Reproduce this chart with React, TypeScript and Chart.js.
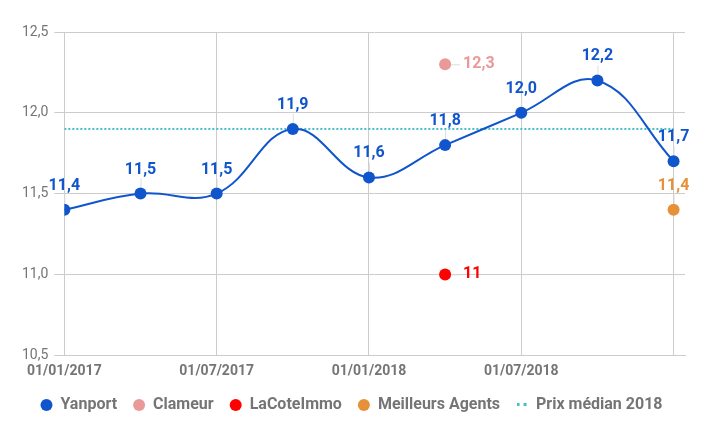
import React, { useEffect, useRef } from "react";
import { Chart, registerables } from "chart.js";

Chart.register(...registerables);

const dates = [
  "01/01/2017", "01/04/2017", "01/07/2017", "01/10/2017",
  "01/01/2018", "01/04/2018", "01/07/2018", "01/10/2018", "01/01/2019",
];
const yanport = [11.4, 11.5, 11.5, 11.9, 11.6, 11.8, 12.0, 12.2, 11.7];
const clameurIndex = 5;
const clameurValue = 12.3;
const laCoteIndex = 5;
const laCoteValue = 11.0;
const meilleursIndex = 8;
const meilleursValue = 11.4;
const prixMedian = 11.9;
const xTickIndices = [0, 2, 4, 6, 8];
const xTickLabels = ["01/01/2017", "01/07/2017", "01/01/2018", "01/07/2018", ""];
const yTicks = [10.5, 11.0, 11.5, 12.0, 12.5];

const FONT = "Roboto, 'Noto Sans', sans-serif";

function fmt(v: number, d: number) {
  return v.toFixed(d).replace(".", ",");
}

const labelPlugin = {
  id: "pointLabels",
  afterDatasetsDraw(chart: any) {
    const ctx = chart.ctx;
    chart.data.datasets.forEach((ds: any, i: number) => {
      if (!ds.labelPos) return;
      const meta = chart.getDatasetMeta(i);
      meta.data.forEach((pt: any, j: number) => {
        const raw = ds.data[j];
        const txt = fmt(raw.y, ds.labelDecimals);
        ctx.save();
        ctx.font = `bold 16px ${FONT}`;
        ctx.fillStyle = ds.labelColor;
        ctx.strokeStyle = "#dddddd";
        ctx.lineWidth = 1;
        if (ds.labelPos === "top") {
          ctx.beginPath();
          ctx.moveTo(pt.x + 0.5, pt.y - 6);
          ctx.lineTo(pt.x + 0.5, pt.y - 15);
          ctx.stroke();
          ctx.textAlign = "center";
          ctx.textBaseline = "middle";
          ctx.fillText(txt, pt.x, pt.y - 24);
        } else {
          ctx.beginPath();
          ctx.moveTo(pt.x + 6, pt.y + 0.5);
          ctx.lineTo(pt.x + 15, pt.y + 0.5);
          ctx.stroke();
          ctx.textAlign = "left";
          ctx.textBaseline = "middle";
          ctx.fillText(txt, pt.x + 18, pt.y);
        }
        ctx.restore();
      });
    });
  },
};

function dottedIcon(color: string) {
  const c = document.createElement("canvas");
  c.width = 11;
  c.height = 4;
  const g = c.getContext("2d")!;
  g.fillStyle = color;
  g.fillRect(0, 0, 3, 3);
  g.fillRect(7, 0, 3, 3);
  return c;
}

export default function App() {
  const ref = useRef<HTMLCanvasElement | null>(null);

  useEffect(() => {
    document.body.style.margin = "0";
    const canvas = ref.current;
    if (!canvas) return;
    const medianColor = "#46bdc6";
    const chart = new Chart(canvas, {
      type: "line",
      data: {
        datasets: [
          {
            label: "Yanport",
            data: yanport.map((v, i) => ({ x: i, y: v })),
            borderColor: "#1155cc",
            backgroundColor: "#1155cc",
            borderWidth: 2,
            pointRadius: 6,
            pointHoverRadius: 6,
            pointBorderWidth: 0,
            tension: 0.4,
            pointStyle: "circle",
            labelPos: "top",
            labelDecimals: 1,
            labelColor: "#1155cc",
          } as any,
          {
            label: "Clameur",
            data: [{ x: clameurIndex, y: clameurValue }],
            borderColor: "#ea9999",
            backgroundColor: "#ea9999",
            showLine: false,
            pointRadius: 6,
            pointBorderWidth: 0,
            pointStyle: "circle",
            labelPos: "right",
            labelDecimals: 1,
            labelColor: "#ea9999",
          } as any,
          {
            label: "LaCoteImmo",
            data: [{ x: laCoteIndex, y: laCoteValue }],
            borderColor: "#ff0000",
            backgroundColor: "#ff0000",
            showLine: false,
            pointRadius: 6,
            pointBorderWidth: 0,
            pointStyle: "circle",
            labelPos: "right",
            labelDecimals: 0,
            labelColor: "#ff0000",
          } as any,
          {
            label: "Meilleurs Agents",
            data: [{ x: meilleursIndex, y: meilleursValue }],
            borderColor: "#e69138",
            backgroundColor: "#e69138",
            showLine: false,
            pointRadius: 6,
            pointBorderWidth: 0,
            pointStyle: "circle",
            labelPos: "top",
            labelDecimals: 1,
            labelColor: "#e69138",
          } as any,
          {
            label: "Prix médian 2018",
            data: [
              { x: 0, y: prixMedian },
              { x: dates.length - 1, y: prixMedian },
            ],
            borderColor: medianColor,
            backgroundColor: medianColor,
            borderWidth: 2,
            borderDash: [2, 2],
            pointRadius: 0,
            pointStyle: dottedIcon(medianColor),
          } as any,
        ],
      },
      options: {
        animation: false,
        responsive: false,
        layout: { padding: { top: 32, right: 21, left: 18, bottom: 13 } },
        plugins: {
          tooltip: { enabled: false },
          legend: {
            position: "bottom",
            labels: {
              usePointStyle: true,
              boxWidth: 12,
              boxHeight: 8.5,
              pointStyleWidth: 12,
              padding: 16,
              color: "#757575",
              font: { family: FONT, size: 16, weight: "bold" },
            },
          },
        },
        scales: {
          x: {
            type: "linear",
            min: 0,
            max: 8.15,
            afterBuildTicks: (axis: any) => {
              axis.ticks = xTickIndices.map((v) => ({ value: v }));
            },
            afterFit: (axis: any) => {
              axis.height -= 7;
            },
            ticks: {
              autoSkip: false,
              maxRotation: 0,
              color: "#757575",
              font: { family: FONT, size: 14, weight: "bold" },
              padding: 8,
              callback: (v: any) => {
                const k = xTickIndices.indexOf(Number(v));
                return k >= 0 ? xTickLabels[k] : "";
              },
            },
            grid: { color: "#cccccc", drawTicks: false },
            border: { color: "#cccccc" },
          },
          y: {
            min: 10.5,
            max: 12.5,
            afterBuildTicks: (axis: any) => {
              axis.ticks = yTicks.map((v) => ({ value: v }));
            },
            afterFit: (axis: any) => {
              axis.width -= 2;
            },
            ticks: {
              color: "#757575",
              font: { family: FONT, size: 14 },
              padding: 6,
              callback: (v: any) => fmt(Number(v), 1),
            },
            grid: { color: "#cccccc", tickLength: 10 },
            border: { display: false },
          },
        },
      } as any,
      plugins: [labelPlugin],
    });
    return () => chart.destroy();
  }, []);

  return (
    <div style={{ width: 706, height: 436 }}>
      <canvas ref={ref} width={706} height={436} style={{ display: "block" }} />
    </div>
  );
}
